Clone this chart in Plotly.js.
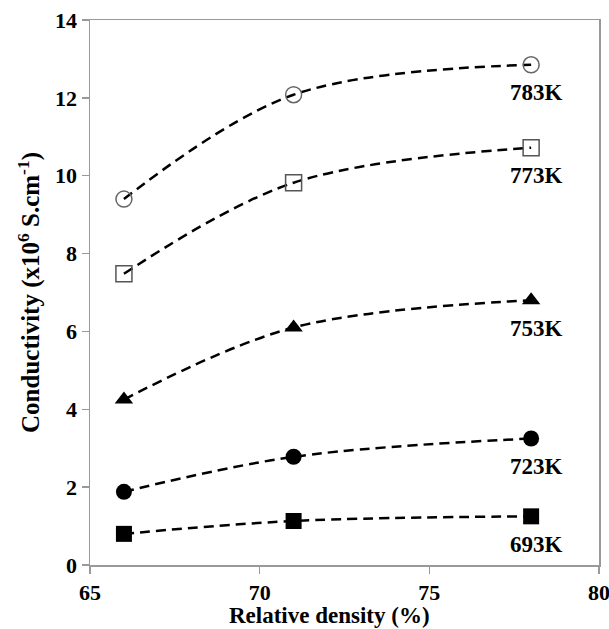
<!DOCTYPE html>
<html>
<head>
<meta charset="utf-8">
<script src="https://cdn.plot.ly/plotly-3.0.1.min.js"></script>
<style>
  html, body { margin: 0; padding: 0; background: #fff; }
  #chart { width: 609px; height: 629px; }
</style>
</head>
<body>
<div id="chart"></div>
<script>
// Relative density (%) of the samples
const density = [66, 71, 78];

// Sintering temperatures (K), one curve each
const temperatures = [783, 773, 753, 723, 693];

// Conductivity (x10^6 S/cm) per temperature, at each density
const cond783 = [9.40, 12.08, 12.85];
const cond773 = [7.48, 9.82, 10.72];
const cond753 = [4.25, 6.10, 6.80];
const cond723 = [1.88, 2.78, 3.25];
const cond693 = [0.80, 1.13, 1.25];

const series = [cond783, cond773, cond753, cond723, cond693];

const markerStyles = [
  { symbol: 'circle-open', size: 16, color: '#666', line: { width: 1.5, color: '#666' } },
  { symbol: 'square-open', size: 16, color: '#555', line: { width: 1.5, color: '#555' } },
  { symbol: 'triangle-up', size: 16, color: '#000' },
  { symbol: 'circle', size: 16, color: '#000' },
  { symbol: 'square', size: 16, color: '#000' }
];

const serif = 'Liberation Serif, Times New Roman, serif';

const traces = series.map((vals, i) => ({
  x: density,
  y: vals,
  type: 'scatter',
  mode: 'lines+markers',
  name: temperatures[i] + 'K',
  line: { color: '#000', width: 2.5, dash: '10px,6px', shape: 'spline', smoothing: 1 },
  marker: markerStyles[i],
  showlegend: false
}));

// Temperature label under the last point of each curve
const annotations = series.map((vals, i) => ({
  x: density[density.length - 1],
  y: vals[vals.length - 1],
  xref: 'x', yref: 'y',
  text: temperatures[i] + 'K',
  showarrow: false,
  xshift: 5,
  yshift: -28,
  font: { family: serif, size: 23, color: '#000', weight: 'bold' }
}));

// x-axis title, set slightly left of the plot centre
annotations.push({
  x: 0.4715, y: 0,
  xref: 'paper', yref: 'paper',
  xanchor: 'center', yanchor: 'middle',
  yshift: -50,
  borderpad: 0,
  text: 'Relative density (%)',
  showarrow: false,
  font: { family: serif, size: 23, color: '#000', weight: 'bold' }
});

const axisCommon = {
  showgrid: false,
  zeroline: false,
  showline: true,
  linecolor: '#999',
  linewidth: 1.5,
  mirror: true,
  ticks: 'outside',
  ticklen: 7,
  tickcolor: '#999',
  tickwidth: 1.5,
  ticklabeloverflow: 'allow',
  tickfont: { family: serif, size: 22, color: '#000', weight: 'bold' }
};

const layout = {
  width: 609,
  height: 629,
  margin: { l: 90, r: 10, t: 20, b: 64 },
  paper_bgcolor: '#fff',
  plot_bgcolor: '#fff',
  xaxis: Object.assign({}, axisCommon, {
    range: [65, 80],
    dtick: 5,
    tick0: 65
  }),
  yaxis: Object.assign({}, axisCommon, {
    range: [0, 14],
    dtick: 2,
    title: { text: 'Conductivity (x10<sup>6</sup> S.cm<sup>-1</sup>)', standoff: 8,
             font: { family: serif, size: 25, color: '#000', weight: 'bold' } }
  }),
  annotations: annotations
};

Plotly.newPlot('chart', traces, layout, { displayModeBar: false, staticPlot: true });
</script>
</body>
</html>
